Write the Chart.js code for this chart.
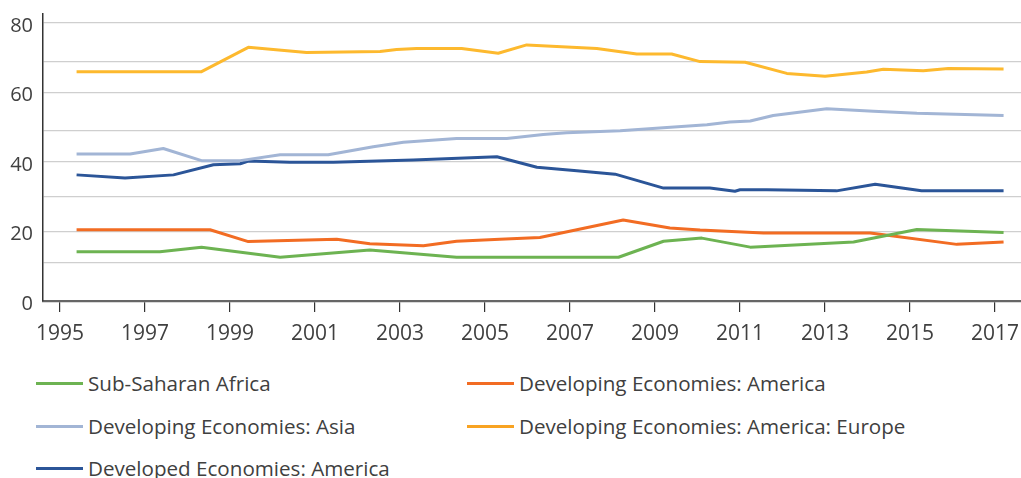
<!DOCTYPE html>
<html>
<head>
<meta charset="utf-8">
<script src="https://cdn.jsdelivr.net/npm/chart.js@4"></script>
<style>
  body { margin: 0; background: #fff; }
  #wrap { position: relative; width: 1021px; height: 478px; overflow: hidden; }
  #box { position: absolute; left: 0; top: 0; width: 1021px; height: 350px; }
  .item { position: absolute; height: 28px; display: flex; align-items: center;
          font-family: "Open Sans", sans-serif; font-size: 20.6px; color: #404040; white-space: nowrap; }
  .item span { display: inline-block; width: 47px; height: 3px; margin-right: 5px; }
</style>
</head>
<body>
<div id="wrap">
  <div id="box"><canvas id="myChart"></canvas></div>
  <div id="legend"></div>
</div>
<script>
// values (x = year, fractional where the bends sit between years)
const africaYears = [1995.39, 1997.35, 1998.33, 2000.18, 2002.29, 2004.33, 2008.14, 2009.20, 2010.10, 2011.24, 2013.67, 2015.16, 2017.20];
const africaVals  = [14.2, 14.2, 15.5, 12.6, 14.7, 12.6, 12.6, 17.2, 18.1, 15.5, 17.0, 20.6, 19.7];

const devAmYears = [1995.39, 1998.53, 1999.43, 2001.51, 2002.29, 2003.55, 2004.33, 2005.35, 2006.29, 2008.25, 2009.35, 2010.06, 2011.55, 2014.06, 2014.29, 2016.10, 2017.20];
const devAmVals  = [20.5, 20.5, 17.1, 17.8, 16.5, 15.9, 17.2, 17.8, 18.3, 23.3, 21.0, 20.4, 19.6, 19.6, 19.2, 16.3, 17.0];

const asiaYears = [1995.39, 1996.65, 1997.43, 1998.33, 1999.24, 2000.18, 2001.31, 2002.37, 2003.08, 2004.33, 2005.51, 2006.37, 2006.92, 2008.18, 2009.28, 2010.22, 2010.76, 2011.24, 2011.78, 2013.04, 2014.14, 2015.16, 2017.20];
const asiaVals  = [42.3, 42.3, 43.9, 40.4, 40.4, 42.1, 42.1, 44.4, 45.7, 46.8, 46.8, 47.9, 48.4, 49.0, 49.9, 50.7, 51.5, 51.8, 53.4, 55.3, 54.6, 54.0, 53.4];

const europeYears = [1995.39, 1998.33, 1999.43, 2000.80, 2002.53, 2002.92, 2003.39, 2004.45, 2005.31, 2005.98, 2007.63, 2008.57, 2009.39, 2010.06, 2011.12, 2012.10, 2013.00, 2013.98, 2014.37, 2015.31, 2015.90, 2017.20];
const europeVals  = [66.0, 66.0, 73.0, 71.5, 71.8, 72.4, 72.7, 72.7, 71.3, 73.7, 72.7, 71.1, 71.1, 68.9, 68.7, 65.5, 64.7, 65.9, 66.7, 66.3, 66.9, 66.8];

const dvdAmYears = [1995.39, 1996.53, 1997.67, 1998.61, 1999.24, 1999.43, 2000.41, 2001.43, 2003.31, 2005.28, 2006.22, 2007.16, 2008.06, 2009.20, 2010.29, 2010.88, 2011.00, 2011.63, 2013.27, 2014.18, 2015.27, 2017.20];
const dvdAmVals  = [36.3, 35.4, 36.3, 39.2, 39.5, 40.3, 39.9, 39.9, 40.6, 41.5, 38.5, 37.5, 36.5, 32.5, 32.5, 31.6, 32.0, 32.0, 31.7, 33.6, 31.7, 31.7];

const seriesNames = ["Sub-Saharan Africa", "Developing Economies: America", "Developing Economies: Asia",
  "Developing Economies: America: Europe", "Developed Economies: America"];
const seriesColors = ["#6db352", "#f26c23", "#a2b5d5", "#fdb92e", "#2b5598"];
const legendColors = ["#6db352", "#f26c23", "#a2b5d5", "#f8a322", "#2b5598"];

const yearLabels = [1995, 1997, 1999, 2001, 2003, 2005, 2007, 2009, 2011, 2013, 2015, 2017];
const gridVals = [0, 11, 20, 30, 40, 49, 60, 69, 80];

function pts(xs, ys) {
  return xs.map((x, i) => ({ x: x, y: ys[i] }));
}

const allData = [
  pts(africaYears, africaVals),
  pts(devAmYears, devAmVals),
  pts(asiaYears, asiaVals),
  pts(europeYears, europeVals),
  pts(dvdAmYears, dvdAmVals),
];

new Chart("myChart", {
  type: "line",
  data: {
    datasets: allData.map((d, i) => ({
      label: seriesNames[i],
      data: d,
      borderColor: seriesColors[i],
      backgroundColor: seriesColors[i],
      borderWidth: 3,
      pointRadius: 0,
      tension: 0,
      borderJoinStyle: "round",
    })),
  },
  options: {
    responsive: true,
    maintainAspectRatio: false,
    animation: false,
    layout: { padding: { top: 14, left: 0, right: 0, bottom: 0 } },
    plugins: { legend: { display: false }, tooltip: { enabled: false } },
    scales: {
      x: {
        type: "linear",
        min: 1994.6,
        max: 2017.61,
        afterBuildTicks: (s) => { s.ticks = yearLabels.map((v) => ({ value: v })); },
        afterFit: (s) => { s.height = 49; s.paddingLeft = 0; s.paddingRight = 0; },
        ticks: { autoSkip: false, maxRotation: 0, padding: 9, color: "#404040",
                 font: { family: "'Open Sans', sans-serif", size: 21 },
                 callback: (v) => String(v) },
        grid: { drawOnChartArea: false, drawTicks: true, tickLength: 11, color: "#333", lineWidth: 1.2 },
        border: { color: "#666", width: 2.2 },
      },
      y: {
        min: 0,
        max: 82.6,
        afterBuildTicks: (s) => { s.ticks = gridVals.map((v) => ({ value: v })); },
        afterFit: (s) => { s.width = 43; s.paddingTop = 0; s.paddingBottom = 0; },
        ticks: { padding: 10, labelOffset: 3, color: "#404040",
                 font: { family: "'Open Sans', sans-serif", size: 20 },
                 callback: (v) => (v % 20 === 0 ? String(v) : "") },
        grid: { drawTicks: false, color: "#cfcfcf", lineWidth: 1.2 },
        border: { color: "#333", width: 1.5 },
      },
    },
  },
});

// Legend, two columns
const legendPos = [[36, 383], [467, 383], [36, 426], [467, 426], [36, 468]];
const leg = document.getElementById("legend");
for (let i = 0; i < seriesNames.length; i++) {
  const div = document.createElement("div");
  div.className = "item";
  div.style.left = legendPos[i][0] + "px";
  div.style.top = (legendPos[i][1] - 14) + "px";
  div.innerHTML = '<span style="background:' + legendColors[i] + '"></span>' + seriesNames[i];
  leg.appendChild(div);
}
</script>
</body>
</html>
